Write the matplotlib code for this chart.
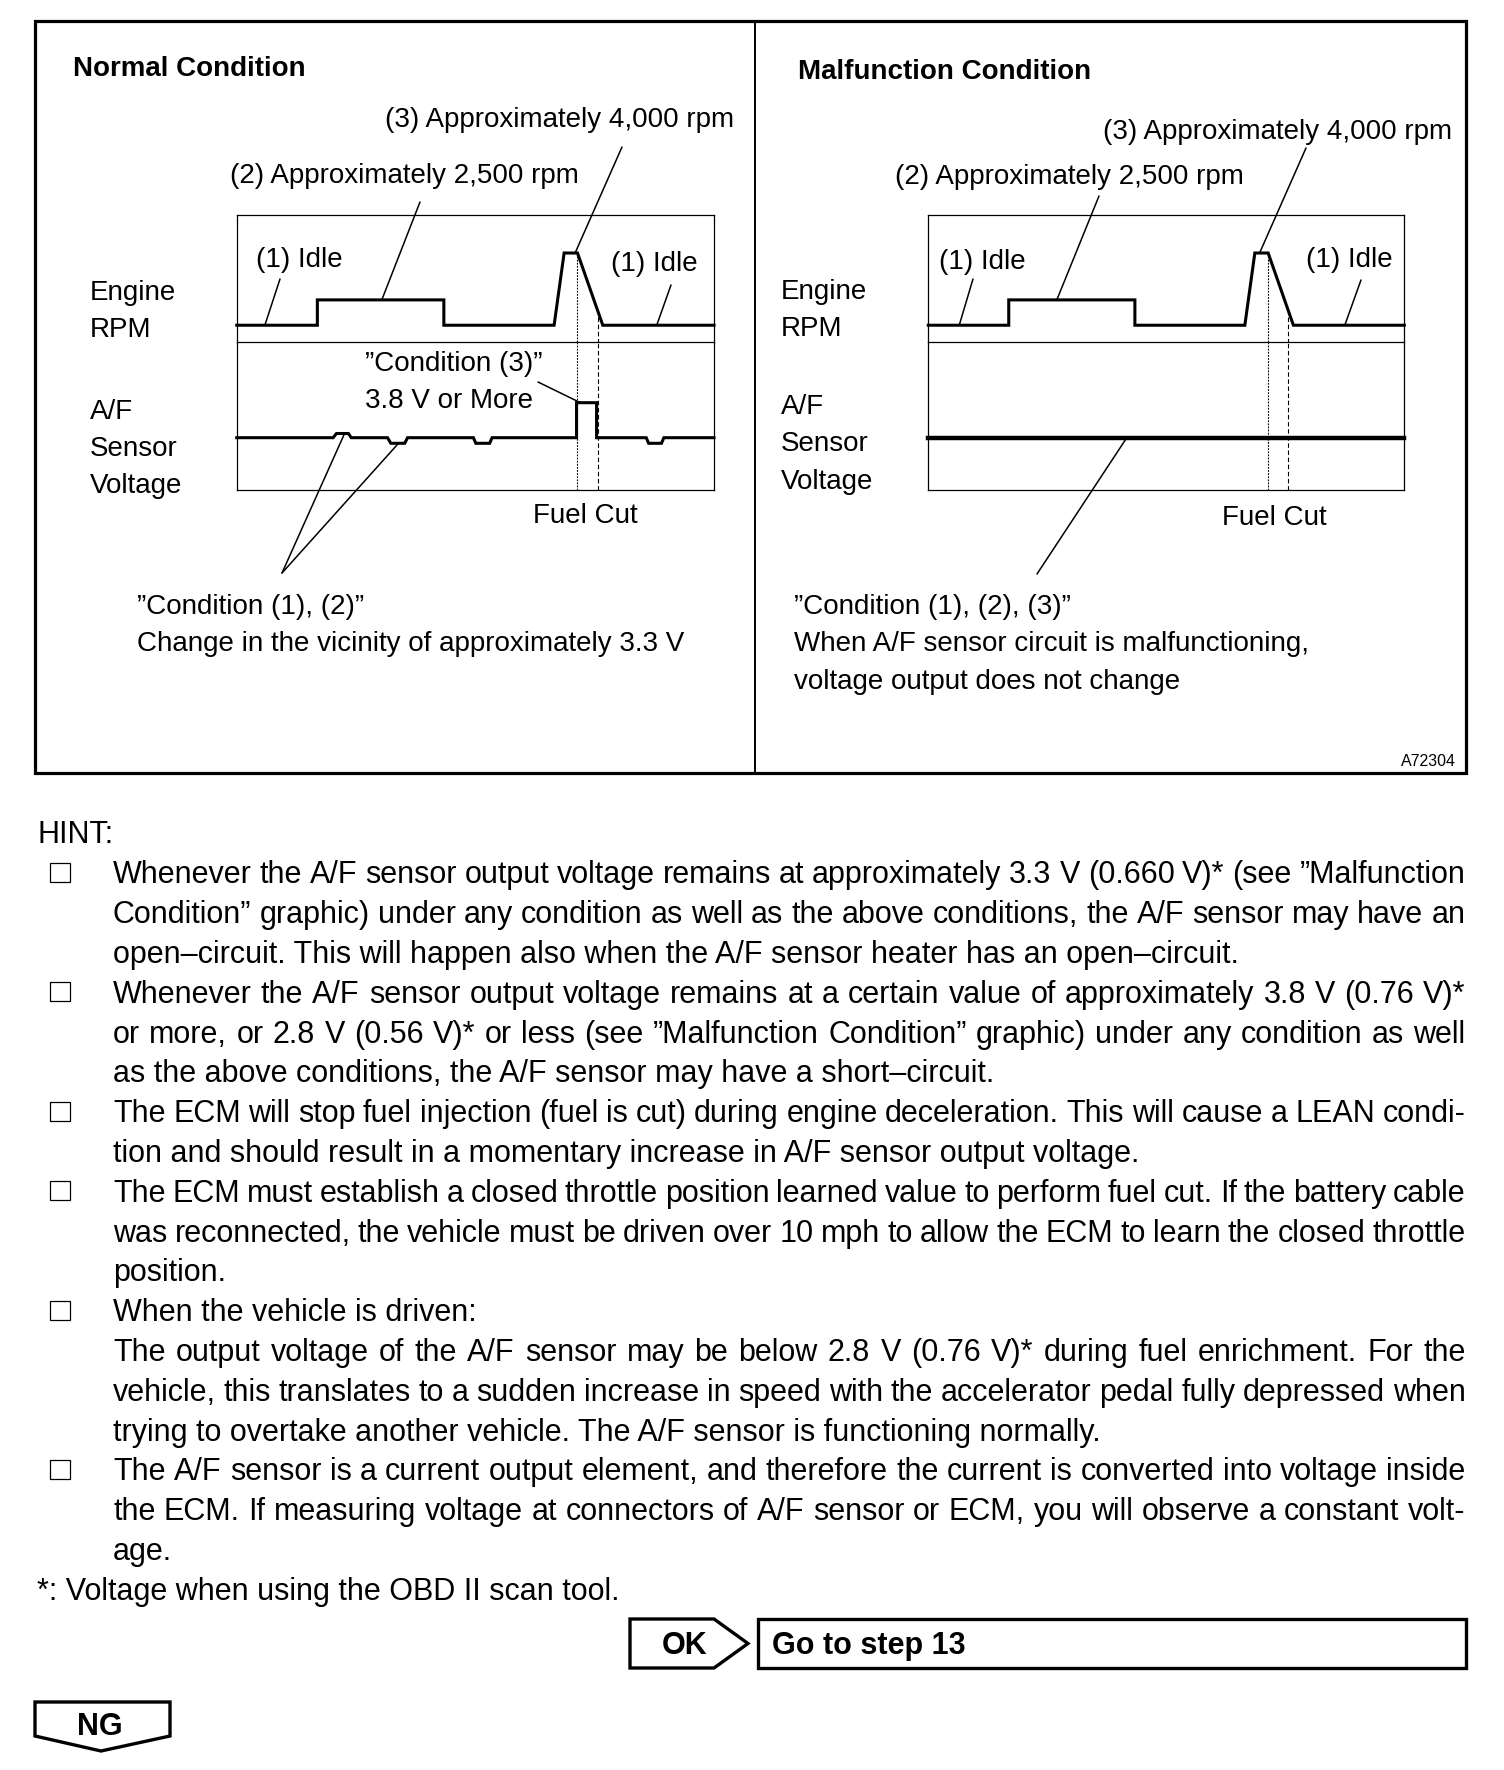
import numpy as np
import matplotlib
matplotlib.use("Agg")
import matplotlib.pyplot as plt
from matplotlib.patches import Rectangle, Polygon, ConnectionPatch
from matplotlib.font_manager import FontProperties

plt.rcParams['font.family'] = ['Liberation Sans', 'DejaVu Sans']

# ---------------- data ----------------
# time axis: arbitrary units across each trace window (0-100)
rpm_time = [0, 16.9, 16.9, 43.4, 43.4, 66.5, 68.6, 71.4, 76.7, 100]
# schematic engine-speed level (fraction of the RPM strip height)
rpm_level = [0.13, 0.13, 0.33, 0.33, 0.13, 0.13, 0.70, 0.70, 0.13, 0.13]

# A/F sensor voltage, normal condition (V)
af_time_normal = [0, 20.2, 20.9, 23.4, 24.0, 31.6, 32.3, 35.2, 35.8, 49.6, 50.1,
                  53.0, 53.5, 71.2, 71.2, 75.4, 75.4, 85.8, 86.3, 89.0, 89.5, 100]
af_volt_normal = [3.3, 3.3, 3.36, 3.36, 3.3, 3.3, 3.22, 3.22, 3.3, 3.3, 3.22,
                  3.22, 3.3, 3.3, 3.8, 3.8, 3.3, 3.3, 3.22, 3.22, 3.3, 3.3]
# A/F sensor voltage, malfunction condition (V)
af_time_malf = [0, 100]
af_volt_malf = [3.3, 3.3]
af_ylim = (2.553, 4.671)

fuel_cut_time = [71.4, 75.6]

panel_titles = ["Normal Condition", "Malfunction Condition"]
label_3 = "(3) Approximately 4,000 rpm"
label_2 = "(2) Approximately 2,500 rpm"
label_1 = "(1) Idle"
left_labels_rpm = ["Engine", "RPM"]
left_labels_af = ["A/F", "Sensor", "Voltage"]
fuel_cut_label = "Fuel Cut"
cond3_lines = ["\u201dCondition (3)\u201d", "3.8 V or More"]
normal_note = ["\u201dCondition (1), (2)\u201d",
               "Change in the vicinity of approximately 3.3 V"]
malf_note = ["\u201dCondition (1), (2), (3)\u201d",
             "When A/F sensor circuit is malfunctioning,",
             "voltage output does not change"]
figure_code = "A72304"

hint_title = "HINT:"
hint_items = [
    [["Whenever the A/F sensor output voltage remains at approximately 3.3 V (0.660 V)* (see \u201dMalfunction",
      "Condition\u201d graphic) under any condition as well as the above conditions, the A/F sensor may have an",
      "open\u2013circuit. This will happen also when the A/F sensor heater has an open\u2013circuit."]],
    [["Whenever the A/F sensor output voltage remains at a certain value of approximately 3.8 V (0.76 V)*",
      "or more, or 2.8 V (0.56 V)* or less (see \u201dMalfunction Condition\u201d graphic) under any condition as well",
      "as the above conditions, the A/F sensor may have a short\u2013circuit."]],
    [["The ECM will stop fuel injection (fuel is cut) during engine deceleration. This will cause a LEAN condi-",
      "tion and should result in a momentary increase in A/F sensor output voltage."]],
    [["The ECM must establish a closed throttle position learned value to perform fuel cut. If the battery cable",
      "was reconnected, the vehicle must be driven over 10 mph to allow the ECM to learn the closed throttle",
      "position."]],
    [["When the vehicle is driven:"],
     ["The output voltage of the A/F sensor may be below 2.8 V (0.76 V)* during fuel enrichment. For the",
      "vehicle, this translates to a sudden increase in speed with the accelerator pedal fully depressed when",
      "trying to overtake another vehicle. The A/F sensor is functioning normally."]],
    [["The A/F sensor is a current output element, and therefore the current is converted into voltage inside",
      "the ECM. If measuring voltage at connectors of A/F sensor or ECM, you will observe a constant volt-",
      "age."]],
]
footnote = "*: Voltage when using the OBD II scan tool."
ok_label = "OK"
ok_text = "Go to step 13"
ng_label = "NG"

# ---------------- layout ----------------
W, H = 1504, 1770
fig = plt.figure(figsize=(W / 100, H / 100), dpi=100)
cv = fig.add_axes([0, 0, 1, 1])
cv.set_xlim(0, W)
cv.set_ylim(H, 0)
cv.axis('off')

PX = 100 / 72.0


def put(x, yc, s, size=20, weight='normal', ha='left'):
    cv.text(x, yc + 0.358 * size * PX, s, fontsize=size, fontweight=weight,
            ha=ha, va='baseline', color='black')


def px_rect(x0, y0, x1, y1):
    return [x0 / W, 1 - y1 / H, (x1 - x0) / W, (y1 - y0) / H]


# outer frame
cv.add_patch(Rectangle((35, 21), 1466 - 35, 773 - 21, fill=False, lw=2.3, ec='black'))
cv.plot([755, 755], [21, 773], color='black', lw=1.4)

panels = [
    dict(x0=236.7, x1=714.0, af_t=af_time_normal, af_v=af_volt_normal, af_lw=2.2),
    dict(x0=928.3, x1=1404.3, af_t=af_time_malf, af_v=af_volt_malf, af_lw=3.2),
]
Y_TOP, Y_MID, Y_BOT = 215.0, 341.7, 490.0

axes = []
for p in panels:
    ar = fig.add_axes(px_rect(p['x0'], Y_TOP, p['x1'], Y_MID))
    aa = fig.add_axes(px_rect(p['x0'], Y_MID, p['x1'], Y_BOT))
    for a in (ar, aa):
        a.set_xlim(0, 100)
        a.set_facecolor('none')
        a.set_xticks([])
        a.set_yticks([])
        for sp in a.spines.values():
            sp.set_linewidth(0.9)
    ar.set_ylim(0, 1)
    aa.set_ylim(*af_ylim)
    aa.spines['top'].set_visible(False)
    ar.plot(rpm_time, rpm_level, color='black', lw=2.2, solid_joinstyle='miter',
            clip_on=False)
    aa.plot(p['af_t'], p['af_v'], color='black', lw=p['af_lw'],
            solid_joinstyle='miter', clip_on=False)
    # fuel cut markers
    styles = [(0, (1.6, 1.2)), (0, (4.0, 2.4))]
    for t, ls in zip(fuel_cut_time, styles):
        lvl = np.interp(t, rpm_time, rpm_level)
        ar.plot([t, t], [lvl, 0], color='black', lw=0.8, ls=ls)
        aa.plot([t, t], list(af_ylim), color='black', lw=0.8, ls=ls)
    axes.append((ar, aa))


def leader(start, ax, t, tt, vv, lw=1.1):
    v = np.interp(t, tt, vv)
    cp = ConnectionPatch(xyA=start, coordsA=cv.transData, xyB=(t, v),
                         coordsB=ax.transData, color='black', lw=lw)
    fig.add_artist(cp)


(arL, aaL), (arR, aaR) = axes
# left panel leaders
leader((280, 279), arL, 5.9, rpm_time, rpm_level)
leader((420, 202), arL, 30.4, rpm_time, rpm_level)
leader((622, 147), arL, 70.9, rpm_time, rpm_level)
leader((671, 285), arL, 88.0, rpm_time, rpm_level)
leader((538, 382), aaL, 72.0, af_time_normal, af_volt_normal)
leader((282, 573), aaL, 22.6, af_time_normal, af_volt_normal)
leader((282, 573), aaL, 33.9, af_time_normal, af_volt_normal)
# right panel leaders
leader((973, 279), arR, 6.5, rpm_time, rpm_level)
leader((1099, 196), arR, 27.0, rpm_time, rpm_level)
leader((1306, 148), arR, 69.6, rpm_time, rpm_level)
leader((1361, 280), arR, 87.5, rpm_time, rpm_level)
leader((1037, 574), aaR, 41.7, af_time_malf, af_volt_malf)

# diagram texts
put(73, 66, panel_titles[0], size=20, weight='bold')
put(798, 69, panel_titles[1], size=20, weight='bold')

put(385, 117, label_3)
put(230, 173, label_2)
put(256, 257, label_1)
put(611, 261, label_1)
put(1103, 129, label_3)
put(895, 174, label_2)
put(939, 259, label_1)
put(1306, 257, label_1)

for i, s in enumerate(left_labels_rpm):
    put(90, 290 + 37 * i, s)
    put(781, 289 + 37 * i, s)
for i, s in enumerate(left_labels_af):
    put(90, 409 + 37 * i, s)
    put(781, 404 + 37.3 * i, s)

put(365, 361, cond3_lines[0])
put(365, 398, cond3_lines[1])
put(533, 513, fuel_cut_label)
put(1222, 515, fuel_cut_label)

for i, s in enumerate(normal_note):
    put(137, 604 + 37.5 * i, s)
for i, s in enumerate(malf_note):
    put(794, 604 + 37.5 * i, s)

cv.text(1456, 766, figure_code, fontsize=11.5, ha='right', va='baseline')

# ---------------- HINT text ----------------
BODY = 22
renderer = fig.canvas.get_renderer()
prop = FontProperties(family='Liberation Sans', size=BODY)


def tw(s):
    w, h, d = renderer.get_text_width_height_descent(s, prop, ismath=False)
    return w


X_L, X_R = 113.0, 1465.5
Y0, STEP = 872.5, 39.8
put(37, 832, hint_title, size=BODY)

row = 0
for item in hint_items:
    yc = Y0 + STEP * row
    cv.add_patch(Rectangle((50, yc - 9.5), 20, 19, fill=False, lw=0.9, ec='black'))
    for para in item:
        for j, line in enumerate(para):
            yc = Y0 + STEP * row
            yb = yc + 0.358 * BODY * PX
            if j == len(para) - 1:
                cv.text(X_L, yb, line, fontsize=BODY, ha='left', va='baseline')
            else:
                words = line.split(' ')
                widths = [tw(w) for w in words]
                gap = (X_R - X_L - sum(widths)) / (len(words) - 1)
                x = X_L
                for w, wd in zip(words, widths):
                    cv.text(x, yb, w, fontsize=BODY, ha='left', va='baseline')
                    x += wd + gap
            row += 1
put(37, Y0 + STEP * row, footnote, size=BODY)

# ---------------- OK / NG boxes ----------------
cv.add_patch(Polygon([(630, 1619), (714, 1619), (748, 1643.5), (714, 1668), (630, 1668)],
                     closed=True, fill=False, lw=2.4, ec='black', joinstyle='miter'))
put(685, 1643.5, ok_label, size=22, weight='bold', ha='center')
cv.add_patch(Rectangle((758, 1619), 1465.5 - 758, 49, fill=False, lw=2.4, ec='black'))
put(772, 1643.5, ok_text, size=22, weight='bold')

cv.add_patch(Polygon([(35, 1702), (170, 1702), (170, 1736), (101, 1751), (35, 1736)],
                     closed=True, fill=False, lw=2.4, ec='black', joinstyle='miter'))
put(100, 1724, ng_label, size=22, weight='bold', ha='center')

fig.savefig("out.png", dpi=100, facecolor='white')
